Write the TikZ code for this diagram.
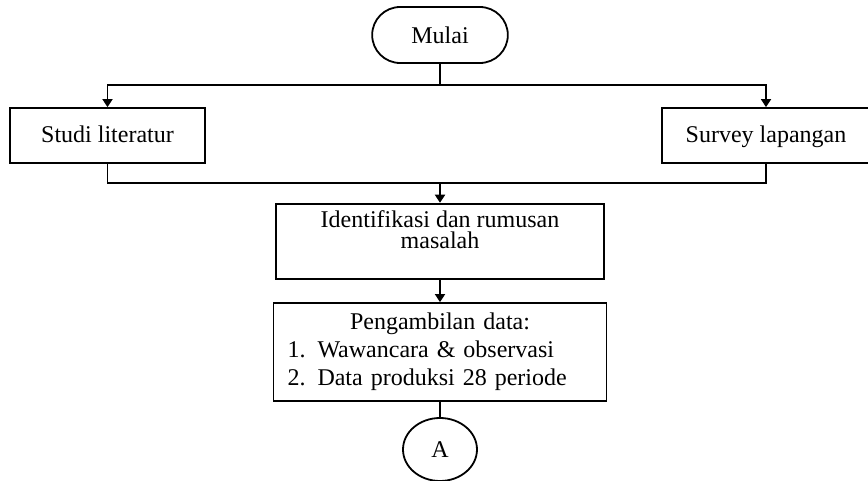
\documentclass[tikz,border=0pt]{standalone}
\usepackage{fontspec}
\setmainfont{Liberation Serif}
\usetikzlibrary{shapes.misc,shapes.geometric,arrows.meta,positioning}

\tikzset{
  kotak/.style={draw, rectangle, line width=0.9pt, align=center},
  terminal/.style={draw, rounded rectangle, line width=0.9pt},
  konektor/.style={draw, ellipse, line width=0.9pt, inner sep=0pt}
}

\begin{document}
\begin{tikzpicture}[x=0.5pt,y=-0.5pt,line width=0.9pt,>={Triangle[length=4pt,width=5pt]},
    font=\fontsize{12}{14}\selectfont]
  \useasboundingbox (0,0) rectangle (868,481);
  \node[terminal, minimum width=74.5pt, minimum height=28pt] (mulai) at (440,35) {Mulai};
  \node[kotak, minimum width=97.5pt, minimum height=27.5pt, text height=9pt, text depth=2.5pt]
        (studi) at (107.5,135.5) {Studi literatur};
  \node[kotak, minimum width=104pt, minimum height=27.5pt, text height=9pt, text depth=2.5pt]
        (survey) at (766,135.5) {Survey lapangan};
  \node[kotak, minimum width=164pt, minimum height=37.5pt, text depth=12pt,
        font=\fontsize{12}{10.75}\selectfont] (identifikasi) at (440,241.5)
        {Identifikasi dan rumusan\\masalah};
  \node[kotak, minimum width=166.5pt, minimum height=49pt, inner xsep=7pt,
        text width=152.5pt, align=left] (pengambilan) at (440,352)
        {\makebox[\linewidth]{Pengambilan data:}\\
         \makebox[15pt][l]{1.}Wawancara \& observasi\\
         \makebox[15pt][l]{2.}Data produksi 28 periode};
  \node[konektor, minimum width=37pt, minimum height=31.5pt] (a) at (440,449.5) {A};

  \coordinate (cabang) at (440,85);
  \coordinate (gabung) at (440,183);
  \draw (mulai) -- (cabang);
  \draw[->] (cabang) -| (studi);
  \draw[->] (cabang) -| (survey);
  \draw (studi) |- (gabung) -| (survey);
  \draw[->] (gabung) -- (identifikasi);
  \draw[->] (identifikasi) -- (pengambilan);
  \draw (pengambilan) -- (a);
\end{tikzpicture}
\end{document}
